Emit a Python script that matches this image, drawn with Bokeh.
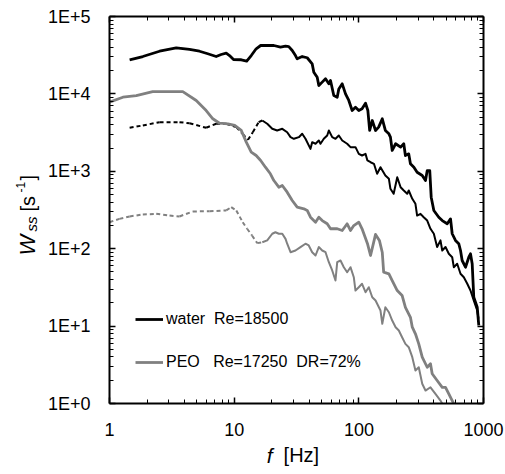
import math
from bokeh.plotting import figure
from bokeh.models import (Range1d, FixedTicker, CustomJSTickFormatter, LogAxis,
                          Label, Legend, LegendItem, ColumnDataSource)
from bokeh.embed import file_html
from bokeh.resources import INLINE

# ---------------- data ----------------
x_ticks = [1, 10, 100, 1000]
y_ticks = [1, 10, 100, 1000, 10000, 100000]

water_f = [1.45, 1.85, 2.52, 3.43, 4.38, 5.27, 6.14, 7.17, 7.86, 8.63, 9.17, 9.87, 11.4, 12.6, 13.7,
           15.0, 16.3, 20.8, 23.5, 25.8, 27.4, 29.2, 31.0, 32.0, 35.1, 38.5, 42.2, 43.5, 46.3, 47.7,
           50.8, 54.0, 57.4, 59.2, 62.9, 67.0, 69.0, 73.5, 78.1, 83.0, 88.3, 93.9, 99.8, 106, 113,
           118, 122, 128, 136, 144, 154, 163, 174, 179, 185, 197, 216, 229, 236, 251, 259, 276, 293,
           322, 342, 353, 370, 380, 399, 437, 466, 511, 543, 560, 595, 632, 653, 673, 716, 761, 785,
           810, 834, 889, 915]
water_W = [27600, 30400, 35600, 39400, 37500, 35600, 33000, 30400, 32300, 33600, 31300, 27800, 27600,
           26500, 31300, 38300, 42200, 42200, 40100, 41300, 40900, 36400, 31300, 28400, 30400, 29300,
           24500, 19100, 16400, 12800, 14200, 15700, 13500, 14900, 9530, 9060, 11600, 13500, 10000,
           8220, 6100, 6730, 6100, 6420, 7580, 6100, 3370, 4530, 3370, 3720, 4770, 3370, 3050, 2760,
           1860, 2270, 2050, 2270, 1600, 1680, 1250, 1130, 973, 883, 760, 1020, 1020, 463, 312, 255,
           231, 210, 243, 156, 128, 116, 94.8, 70.4, 57.7, 77.6, 85.9, 63.8, 23.6, 17.5, 10.2]

water2_f = [1.45, 1.85, 2.52, 3.64, 4.38, 5.96, 7.17, 8.63, 10.4, 11.7, 12.9, 14.1, 15.7, 16.8, 18.4,
            20.2, 22.1, 24.3, 26.6, 28.3, 30.1, 33.0, 35.1, 37.3, 40.9, 42.2, 44.9, 47.7, 49.2, 52.3,
            55.7, 57.4, 61.1, 64.9, 69.0, 73.5, 80.5, 85.6, 93.9, 99.8, 106, 113, 117, 124, 132,
            140, 149, 163, 174, 179, 190, 203, 216, 229, 244, 251, 268, 284, 293, 312,
            331, 353, 375, 399, 424, 451, 466, 495, 526, 560, 577, 614, 653, 694, 738,
            785, 834, 889, 910]
water2_W = [3650, 3910, 4310, 4310, 4180, 3650, 4110, 4110, 3720, 3050, 2550, 3200, 4310, 4530, 4110,
            3540, 3370, 3540, 3200, 2760, 2630, 2760, 3050, 2630, 1950, 2380, 2270, 2500, 2270, 2630,
            2900, 3370, 2760, 2630, 2900, 2500, 2270, 2050, 2050, 1680, 1600, 1680, 1380, 1310, 1250,
            929, 1130, 883, 800, 594, 512, 839, 623, 565, 512, 565, 441, 380, 268, 282,
            255, 231, 181, 156, 105, 128, 94.8, 105, 85.9, 77.6, 57.7, 63.8, 47.4, 42.8, 35.5,
            28.8, 21.4, 15.9, 12.5]

peo_f = [1.0, 1.28, 1.64, 2.22, 3.87, 4.96, 5.96, 6.74, 7.62, 8.89, 10.1, 11.4, 12.5, 13.7, 15.0,
         16.3, 17.8, 19.5, 20.8, 22.8, 24.3, 26.6, 29.2, 32.0, 36.2, 38.5, 40.9, 44.9, 47.7, 50.8,
         55.7, 59.2, 67.0, 73.5, 80.5, 85.6, 91.0, 99.8, 106, 117, 124, 136, 146, 154, 158,
         174, 185, 203, 222, 236, 259, 268, 284, 302, 322, 353, 375, 387, 424, 466,
         495, 526, 560, 575]
peo_W = [7820, 9060, 9530, 10700, 10700, 8220, 6100, 4770, 4180, 4110, 3910, 3370, 2380, 1770, 1600,
         1380, 1130, 929, 760, 623, 655, 537, 420, 344, 328, 312, 255, 220, 255, 231,
         210, 181, 181, 172, 210, 172, 199, 220, 181, 117, 81.7, 153, 128, 89.3, 49.7,
         47.4, 38.8, 28.8, 24.9, 17.5, 13.0, 9.68, 7.95, 5.90, 3.97, 2.94, 3.26, 2.42, 1.98, 1.62,
         1.62, 1.33, 1.09, 1.0]

peo2_f = [1.0, 1.20, 1.45, 1.85, 2.37, 3.03, 3.64, 4.66, 6.34, 8.63, 9.46, 10.4, 11.7, 12.7, 13.9,
          15.3, 16.8, 18.4, 20.2, 21.4, 22.8, 24.3, 25.8, 26.6, 28.3, 31.0, 34.0, 37.3, 39.6, 42.2,
          44.9, 47.7, 50.8, 54.0, 57.4, 61.1, 64.9, 67.0, 71.2, 75.7, 80.5, 85.6, 91.0, 93.9, 99.8,
          106, 113, 120, 128, 136, 149, 154, 163, 174, 185, 197, 209, 222, 236, 251,
          268, 284, 302, 322, 342, 375, 411, 451, 465]
peo2_W = [220, 243, 261, 277, 282, 268, 261, 303, 305, 312, 344, 312, 220, 181, 148,
          118, 121, 128, 156, 163, 156, 156, 134, 116, 90.1, 94.8, 105, 116, 110, 90.1,
          81.7, 105, 94.8, 90.1, 66.9, 52.3, 38.8, 66.9, 70.4, 57.7, 49.7, 57.7, 42.8, 28.8, 31.8,
          35.2, 27.4, 31.8, 23.6, 21.4, 15.9, 10.7, 17.5, 15.1, 11.8, 9.68, 8.77, 7.19, 5.90, 5.34,
          3.97, 2.67, 2.94, 1.80, 1.47, 1.62, 1.33, 1.09, 1.0]

legend_labels = ["water\u00a0 Re=18500", "PEO\u00a0 \u00a0Re=17250\u00a0 DR=72%"]

# ---------------- layout (pixel geometry of the reference) ----------------
W_PX, H_PX = 505, 474
X0_PX, XDEC_PX = 109, 124.7      # x=1 at 109 px, 124.7 px per decade
Y0_PX, YDEC_PX = 403, 77.4       # y=1 at 403 px, 77.4 px per decade
x_lo = 10 ** (-X0_PX / XDEC_PX)
x_hi = 10 ** ((W_PX - X0_PX) / XDEC_PX)
y_lo = 10 ** (-(H_PX - Y0_PX) / YDEC_PX)
y_hi = 10 ** (Y0_PX / YDEC_PX)

FONT = "Liberation Sans"
GRAY = "#808080"

p = figure(width=W_PX, height=H_PX, x_axis_type="log", y_axis_type="log",
           x_axis_location=None, y_axis_location=None,
           x_range=Range1d(x_lo, x_hi), y_range=Range1d(y_lo, y_hi),
           output_backend="svg", toolbar_location=None,
           min_border=0, min_border_left=0, min_border_right=0,
           min_border_top=0, min_border_bottom=0)
p.grid.visible = False
p.outline_line_color = None
p.background_fill_color = "white"
p.border_fill_color = "white"

x_minor = [m * d for d in x_ticks[:-1] for m in range(2, 10)]
y_minor = [m * d for d in y_ticks[:-1] for m in range(2, 10)]

xcode = "return tick.toString();"
ycode = "return '1E+' + Math.round(Math.log10(tick));"
hide = "return '';"

def make_axis(ticks, minor, code, loc, bounds, show):
    ax = LogAxis(fixed_location=loc, bounds=bounds)
    ax.ticker = FixedTicker(ticks=ticks, minor_ticks=minor)
    ax.formatter = CustomJSTickFormatter(code=code)
    ax.major_tick_in = 6
    ax.major_tick_out = 0
    ax.minor_tick_in = 4
    ax.minor_tick_out = 0
    ax.axis_line_width = 2
    ax.axis_line_color = "black"
    ax.major_tick_line_color = "black"
    ax.minor_tick_line_color = "black"
    ax.major_tick_line_width = 1.5
    ax.minor_tick_line_width = 1
    ax.major_label_text_font = FONT
    ax.major_label_text_color = "black"
    ax.major_label_text_font_size = "18px"
    ax.major_label_standoff = 19 if show else 0
    return ax

p.add_layout(make_axis(x_ticks, x_minor, xcode, y_ticks[0], (x_ticks[0], x_ticks[-1]), True), "below")
p.add_layout(make_axis(y_ticks, y_minor, ycode, x_ticks[0], (y_ticks[0], y_ticks[-1]), True), "left")
p.add_layout(make_axis(x_ticks, x_minor, hide, y_ticks[-1], (x_ticks[0], x_ticks[-1]), False), "above")
p.add_layout(make_axis(y_ticks, y_minor, hide, x_ticks[-1], (y_ticks[0], y_ticks[-1]), False), "right")

# ---------------- series ----------------
src_w = ColumnDataSource(dict(f=water_f, W=water_W))
src_p = ColumnDataSource(dict(f=peo_f, W=peo_W))

# dashed series: sparse low-frequency part shows the dash pattern, dense part looks solid
nb = 14   # black dashed: dashes visible up to ~17 Hz
ng = 17   # gray dashed: dashes visible up to ~17 Hz
p.segment(x0=peo2_f[:ng - 1], y0=peo2_W[:ng - 1], x1=peo2_f[1:ng], y1=peo2_W[1:ng],
          line_color=GRAY, line_width=2, line_dash="4 3")
p.line(peo2_f[ng - 1:], peo2_W[ng - 1:], line_color=GRAY, line_width=2, line_join="round")
p.segment(x0=water2_f[:nb - 1], y0=water2_W[:nb - 1], x1=water2_f[1:nb], y1=water2_W[1:nb],
          line_color="black", line_width=2, line_dash="4 3")
p.line(water2_f[nb - 1:], water2_W[nb - 1:], line_color="black", line_width=2, line_join="round")

r_peo = p.line("f", "W", source=src_p, line_color=GRAY, line_width=2.8, line_join="round")
r_water = p.line("f", "W", source=src_w, line_color="black", line_width=2.8, line_join="round")

legend = Legend(items=[LegendItem(label=legend_labels[0], renderers=[r_water]),
                       LegendItem(label=legend_labels[1], renderers=[r_peo])],
                location=(135, 102), glyph_width=28, glyph_height=20, label_height=20,
                spacing=23, padding=0, margin=0, label_standoff=3,
                border_line_color=None, background_fill_alpha=0,
                label_text_font=FONT, label_text_font_size="16px", label_text_color="black")
p.add_layout(legend)

# ---------------- axis titles ----------------
def lab(x, y, text, size, style="normal", angle=0.0):
    p.add_layout(Label(x=x, y=y, text=text, text_font=FONT, text_font_size=size,
                       text_font_style=style, text_color="black", angle=angle,
                       text_align="left", text_baseline="alphabetic"))

lab(18.2, 0.213, "f", "21px", "italic")
lab(24.9, 0.213, "[Hz]", "20px")

A = math.pi / 2
lab(0.22, 81.7, "W", "22px", "italic", A)
lab(0.237, 167, "ss", "15px", "italic", A)
lab(0.22, 303, "[s", "20px", "normal", A)
lab(0.193, 532, "-1", "12px", "normal", A)
lab(0.22, 760, "]", "20px", "normal", A)

open("out.html", "w").write(file_html(p, INLINE))
